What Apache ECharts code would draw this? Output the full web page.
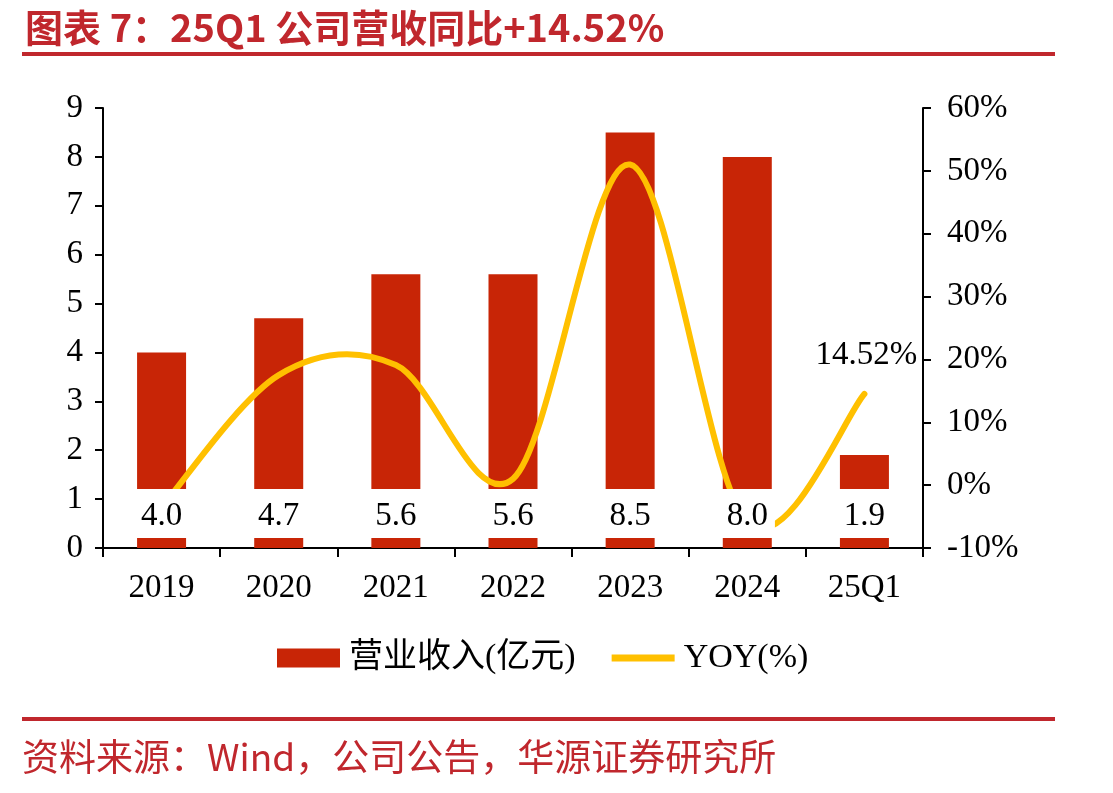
<!DOCTYPE html>
<html>
<head>
<meta charset="utf-8">
<script src="https://cdn.jsdelivr.net/npm/echarts@6/dist/echarts.min.js"></script>
<style>
html,body{margin:0;padding:0;background:#fff;}
#chart{width:1113px;height:793px;}
</style>
</head>
<body>
<div id="chart"></div>
<script>
var categories = ['2019', '2020', '2021', '2022', '2023', '2024', '25Q1'];
var revenue = [4.0, 4.7, 5.6, 5.6, 8.5, 8.0, 1.9];
var yoy = [-3.5, 17.5, 19.1, 1.0, 51.0, -5.9, 14.52];
var leftTicks = {min: 0, max: 9, interval: 1};
var rightTicks = {min: -10, max: 60, interval: 10};
var titleText = '图表 7：25Q1 公司营收同比+14.52%';
var sourceText = '资料来源：Wind，公司公告，华源证券研究所';
var barName = '营业收入(亿元)';
var lineName = 'YOY(%)';

var RED = '#C0272D';
var BAR = '#C82506';
var GOLD = '#FFC000';
var SERIF = '"Liberation Serif", "Times New Roman", serif';

var chart = echarts.init(document.getElementById('chart'), null, {renderer: 'canvas'});

// Smooth curve (Catmull-Rom style, as in spreadsheet "smoothed line") through points mapped by the axes
function renderYoy(params, api) {
  if (params.dataIndex !== 0) return null;
  var n = yoy.length;
  var pts = [];
  for (var i = 0; i < n; i++) pts.push(api.coord([i, yoy[i]]));
  var d = 'M' + pts[0][0] + ',' + pts[0][1];
  for (var k = 0; k < n - 1; k++) {
    var p0 = pts[Math.max(k - 1, 0)], p1 = pts[k], p2 = pts[k + 1], p3 = pts[Math.min(k + 2, n - 1)];
    var c1x = p1[0] + (p2[0] - p0[0]) / 6, c1y = p1[1] + (p2[1] - p0[1]) / 6;
    var c2x = p2[0] - (p3[0] - p1[0]) / 6, c2y = p2[1] - (p3[1] - p1[1]) / 6;
    d += 'C' + c1x + ',' + c1y + ' ' + c2x + ',' + c2y + ' ' + p2[0] + ',' + p2[1];
  }
  var last = pts[n - 1];
  return {
    type: 'group',
    children: [
      {type: 'path', shape: {pathData: d},
       style: {fill: null, stroke: GOLD, lineWidth: 6, lineCap: 'round', lineJoin: 'round'}},
      {type: 'text', x: last[0] + 2, y: last[1] - 39,
       style: {text: yoy[n - 1].toFixed(2) + '%', fill: '#000', align: 'center', verticalAlign: 'middle',
               font: '33px ' + SERIF}}
    ]
  };
}

var option = {
  backgroundColor: '#fff',
  animation: false,
  title: {
    text: titleText,
    left: 20, top: 4,
    textStyle: {fontFamily: '"Noto Sans CJK SC"', fontWeight: 'bold', fontSize: 38, color: RED}
  },
  graphic: [
    {type: 'rect', shape: {x: 22, y: 52, width: 1033, height: 4}, style: {fill: RED}},
    {type: 'rect', shape: {x: 22, y: 717, width: 1033, height: 4}, style: {fill: RED}},
    {type: 'text', left: 22, top: 738, style: {text: sourceText, fill: RED,
      font: 'normal 37px "Noto Sans CJK SC"'}}
  ],
  grid: {left: 103, right: 190, top: 108, bottom: 245},
  legend: {
    top: 636, left: 272,
    itemWidth: 63, itemHeight: 19, itemGap: 36,
    textStyle: {fontFamily: SERIF + ', "Noto Sans CJK SC"', fontSize: 34, color: '#000', padding: [0, 0, 0, 4]},
    data: [
      {name: barName, icon: 'rect'},
      {name: lineName, icon: 'path://M0,0 L64,0 L64,7 L0,7 Z'}
    ]
  },
  xAxis: {
    type: 'category',
    data: categories,
    axisLine: {lineStyle: {color: '#000', width: 2}},
    axisTick: {show: true, length: 9, lineStyle: {color: '#000', width: 2}},
    axisLabel: {fontFamily: SERIF, fontSize: 33, color: '#000', margin: 24}
  },
  yAxis: [
    {type: 'value', min: leftTicks.min, max: leftTicks.max, interval: leftTicks.interval,
     axisLine: {show: true, lineStyle: {color: '#000', width: 2}},
     axisTick: {show: true, length: 8, lineStyle: {color: '#000', width: 2}},
     splitLine: {show: false},
     axisLabel: {fontFamily: SERIF, fontSize: 33, color: '#000', margin: 20}},
    {type: 'value', min: rightTicks.min, max: rightTicks.max, interval: rightTicks.interval,
     axisLine: {show: true, lineStyle: {color: '#000', width: 2}},
     axisTick: {show: true, length: 8, lineStyle: {color: '#000', width: 2}},
     splitLine: {show: false},
     axisLabel: {fontFamily: SERIF, fontSize: 33, color: '#000', margin: 24, formatter: '{value}%'}}
  ],
  series: [
    {name: barName, type: 'bar', data: revenue, barWidth: 49, z: 2,
     itemStyle: {color: BAR}},
    {name: lineName, type: 'custom', yAxisIndex: 1, z: 3,
     data: yoy.map(function (v, i) { return [i, v]; }),
     encode: {x: 0, y: 1},
     itemStyle: {color: GOLD},
     renderItem: renderYoy},
    {name: 'labels', type: 'bar', data: revenue, barWidth: 49, barGap: '-100%', z: 4,
     itemStyle: {color: 'rgba(0,0,0,0)'},
     label: {show: true, position: 'insideBottom', distance: 10,
       formatter: function (p) { return p.value.toFixed(1); },
       fontFamily: SERIF, fontSize: 33, color: '#000', backgroundColor: '#fff',
       padding: [10, 7, 4, 7], lineHeight: 35}}
  ]
};
chart.setOption(option);
</script>
</body>
</html>
